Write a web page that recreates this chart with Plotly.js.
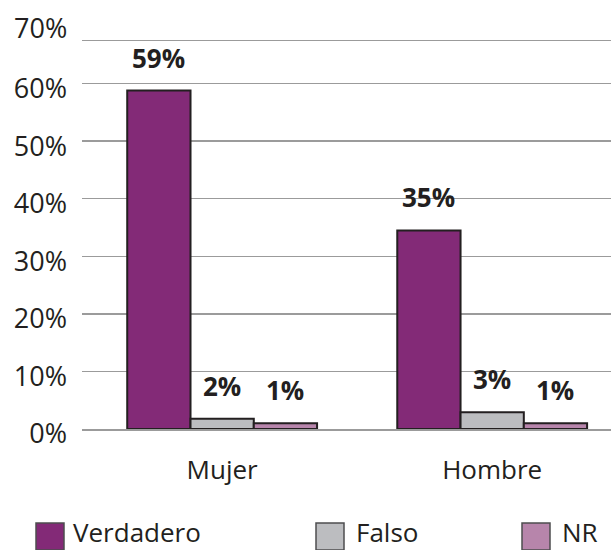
<!DOCTYPE html>
<html>
<head>
<meta charset="utf-8">
<script src="https://cdn.plot.ly/plotly-3.0.1.min.js"></script>
<style>
html,body{margin:0;padding:0;background:#fff;}
#chart{width:611px;height:550px;}
</style>
</head>
<body>
<div id="chart"></div>
<script>
// ---- data ----
const categories = ['Mujer', 'Hombre'];
const seriesNames = ['Verdadero', 'Falso', 'NR'];
const verdadero = [58.8, 34.5];
const falso = [1.8, 2.9];
const nr = [1.0, 1.0];
const yTickVals = [0, 10, 20, 30, 40, 50, 60, 70];
const yTickText = ['0%', '10%', '20%', '30%', '40%', '50%', '60%', '70%'];

// ---- style ----
const colors = ['#832A77', '#BCBDC0', '#B785AB'];
const outline = '#231F20';
const textColor = '#231F20';
const gridColor = '#9B9B9B';
const font = 'Open Sans, Noto Sans, sans-serif';
const W = 611, H = 550;
const M = {l: 82, r: 0, t: 41, b: 121};
const PW = W - M.l - M.r, PH = H - M.t - M.b;
const bargap = 0.297;
const yMax = 67.4;

const seriesValues = [verdadero, falso, nr];

const traces = seriesNames.map((name, i) => ({
  type: 'bar',
  name: name,
  x: categories,
  y: seriesValues[i],
  marker: {color: colors[i], line: {color: outline, width: 2}},
  hoverinfo: 'skip',
  showlegend: false
}));

// value labels above bars
const barW = (1 - bargap) / seriesNames.length;
const annotations = [];
seriesValues.forEach((vals, i) => {
  vals.forEach((v, j) => {
    annotations.push({
      x: j + (i - (seriesNames.length - 1) / 2) * barW,
      y: v,
      xref: 'x', yref: 'y',
      text: '<b>' + Math.round(v) + '%</b>',
      showarrow: false,
      xanchor: 'center', yanchor: 'middle',
      yshift: 33,
      font: {family: font, size: 26, color: textColor}
    });
  });
});

// top tick label lies outside the plotted range: place it in paper units
const topTick = yTickVals[yTickVals.length - 1];
annotations.push({
  x: 0, xref: 'paper', xanchor: 'right', xshift: -13,
  y: topTick / yMax, yref: 'paper', yanchor: 'middle', yshift: -1,
  text: yTickText[yTickText.length - 1],
  showarrow: false,
  font: {family: font, size: 27, color: textColor}
});

// manual legend
const px2x = px => (px - M.l) / PW;
const px2y = py => (H - M.b - py) / PH;
const swatchX = [36, 316, 522];
const labelX = [71, 354, 560];
const shapes = [];
seriesNames.forEach((name, i) => {
  shapes.push({
    type: 'rect', xref: 'paper', yref: 'paper',
    x0: px2x(swatchX[i]), x1: px2x(swatchX[i] + 28),
    y0: px2y(550), y1: px2y(523),
    fillcolor: colors[i], line: {color: '#4D4D4F', width: 1.5}
  });
  annotations.push({
    x: px2x(labelX[i]), xref: 'paper', xanchor: 'left',
    y: px2y(532), yref: 'paper', yanchor: 'middle',
    text: name, showarrow: false,
    font: {family: font, size: 26, color: textColor}
  });
});

const layout = {
  width: W, height: H,
  margin: M,
  paper_bgcolor: '#fff', plot_bgcolor: '#fff',
  barmode: 'group', bargap: bargap, bargroupgap: 0,
  showlegend: false,
  font: {family: font, size: 26, color: textColor},
  xaxis: {
    type: 'category', range: [-0.519, 1.44],
    showgrid: false, zeroline: false,
    showline: true, mirror: true, linecolor: gridColor, linewidth: 1.5,
    ticks: '', ticklabelstandoff: 17,
    tickfont: {family: font, size: 26, color: textColor},
    fixedrange: true
  },
  yaxis: {
    range: [0, yMax],
    tickvals: yTickVals, ticktext: yTickText,
    showgrid: true, gridcolor: gridColor, gridwidth: 1.5,
    zeroline: false, showline: false,
    ticks: '', ticklabelstandoff: 14, ticklabelshift: 5,
    tickfont: {family: font, size: 27, color: textColor},
    fixedrange: true
  },
  shapes: shapes,
  annotations: annotations
};

Plotly.newPlot('chart', traces, layout, {displayModeBar: false, staticPlot: true});
</script>
</body>
</html>
